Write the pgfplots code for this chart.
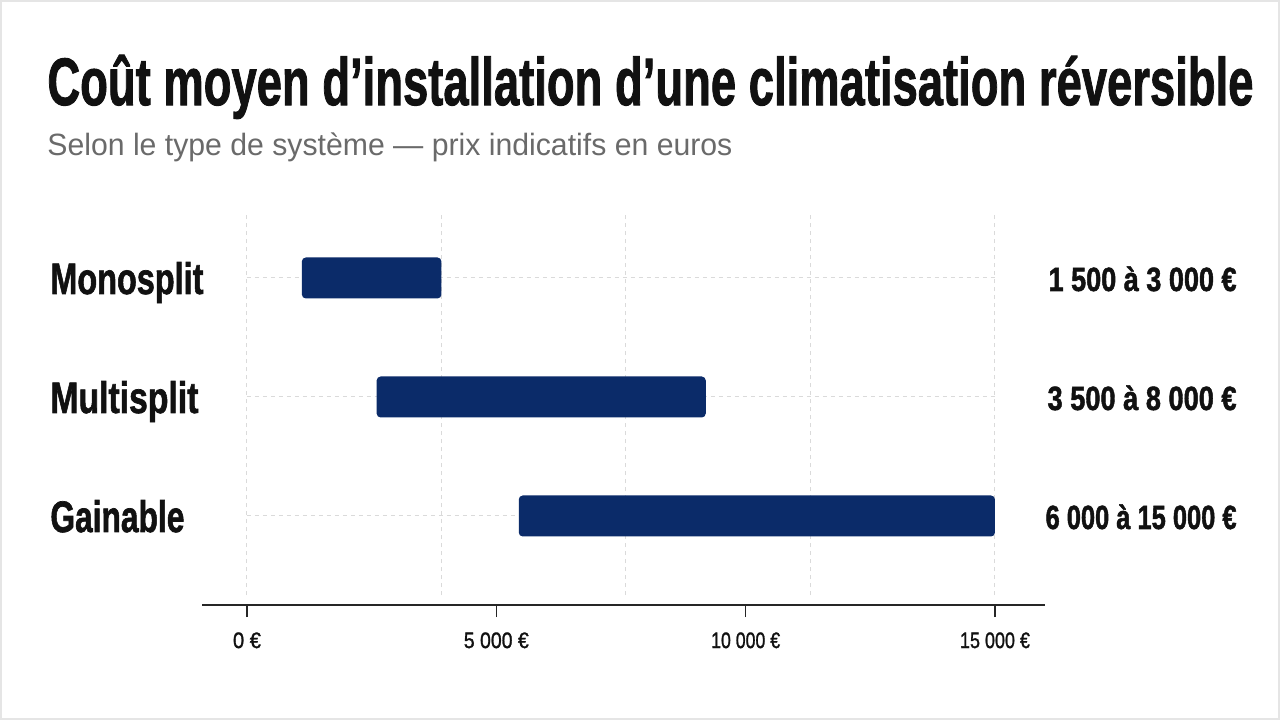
\documentclass[border=0pt]{standalone}
\usepackage{fontspec}
\setmainfont{Liberation Sans}
\newfontfamily\heavy{Liberation Sans}[BoldFeatures={FakeBold=1.6}]
\newfontfamily\semi{Liberation Sans}[UprightFeatures={FakeBold=1.3}]
\usepackage{graphicx}
\usepackage{pgfplots}
\pgfplotsset{compat=1.18}
\definecolor{navy}{HTML}{0B2B69}
\definecolor{gridc}{HTML}{DADADA}
\definecolor{subc}{HTML}{6A6A6A}
\definecolor{ink}{HTML}{111111}
\newcommand{\fit}[2]{\resizebox{#1}{\height}{#2}}
\newcommand{\tl}[2]{\fit{#1}{\fontsize{11.2}{13}\selectfont\semi #2}}
\pgfplotsset{common/.style={
  at={(101pt,57.5pt)}, anchor=south west, scale only axis,
  width=421.5pt, height=196pt,
  xmin=-902, xmax=16003, ymin=0.252, ymax=3.546, clip=false}}
\begin{document}
\begin{tikzpicture}
\useasboundingbox (0,0) rectangle (640pt,360pt);
\fill[white] (0,0) rectangle (640pt,360pt);
\draw[black!10, line width=0.8pt] (0.4pt,0.4pt) rectangle (639.6pt,359.6pt);
\node[anchor=base west, inner sep=0pt, text=ink] at (23.5pt,307.5pt)
  {\fit{603pt}{\fontsize{33.5}{36}\selectfont\heavy\bfseries Coût moyen d’installation d’une climatisation réversible}};
\node[anchor=base west, inner sep=0pt, text=subc] at (23.5pt,282.5pt)
  {\fit{342.5pt}{\fontsize{15.4}{18}\selectfont Selon le type de système — prix indicatifs en euros}};
\begin{axis}[common, axis lines=none, xtick=\empty, ytick=\empty]
\foreach \gx in {0,3900,7600,11300,15000} {
  \edef\temp{\noexpand\draw[gridc, line width=0.5pt, dash pattern=on 2pt off 2pt] (axis cs:\gx,0.336) -- (axis cs:\gx,3.546);}
  \temp
}
\foreach \gy in {1,2,3} {
  \edef\temp{\noexpand\draw[gridc, line width=0.5pt, dash pattern=on 2pt off 2pt] (axis cs:0,\gy) -- (axis cs:15000,\gy);}
  \temp
}
\end{axis}
\begin{axis}[common,
  axis x line*=bottom, axis y line=none,
  axis line style={draw=black!85, line width=1pt},
  xtick={0,5000,10000,15000},
  scaled x ticks=false,
  xticklabels={\tl{14pt}{0 €},\tl{32.5pt}{5 000 €},\tl{34.5pt}{10 000 €},\tl{35pt}{15 000 €}},
  major tick length=6pt, tick align=outside,
  x tick style={draw=black!85, line width=0.6pt},
  xticklabel style={anchor=north, inner sep=0pt, text=ink, yshift=-7.5pt},
  ytick=\empty,
  xbar stacked, bar width=20.5pt,
]
\addplot[draw=none, fill=none] coordinates {(1100,3) (2600,2) (5450,1)};
\addplot[draw=none, fill=navy, rounded corners=2pt] coordinates {(2800,3) (6600,2) (9550,1)};
\coordinate (c3) at (axis cs:0,3);
\coordinate (c2) at (axis cs:0,2);
\coordinate (c1) at (axis cs:0,1);
\end{axis}
\node[anchor=base west, inner sep=0pt, text=ink, yshift=-8pt] at (25pt,0 |- c3)
  {\fit{76.5pt}{\fontsize{22}{24}\selectfont\heavy\bfseries Monosplit}};
\node[anchor=base west, inner sep=0pt, text=ink, yshift=-8pt] at (25pt,0 |- c2)
  {\fit{74pt}{\fontsize{22}{24}\selectfont\heavy\bfseries Multisplit}};
\node[anchor=base west, inner sep=0pt, text=ink, yshift=-8pt] at (25pt,0 |- c1)
  {\fit{67pt}{\fontsize{22}{24}\selectfont\heavy\bfseries Gainable}};
\node[anchor=base east, inner sep=0pt, text=ink, yshift=-6.5pt] at (618.5pt,0 |- c3)
  {\fit{94pt}{\fontsize{16.8}{19}\selectfont\heavy\bfseries 1 500 à 3 000 €}};
\node[anchor=base east, inner sep=0pt, text=ink, yshift=-6.5pt] at (618.5pt,0 |- c2)
  {\fit{94.5pt}{\fontsize{16.8}{19}\selectfont\heavy\bfseries 3 500 à 8 000 €}};
\node[anchor=base east, inner sep=0pt, text=ink, yshift=-6.5pt] at (618.5pt,0 |- c1)
  {\fit{95.5pt}{\fontsize{16.8}{19}\selectfont\heavy\bfseries 6 000 à 15 000 €}};
\end{tikzpicture}
\end{document}
